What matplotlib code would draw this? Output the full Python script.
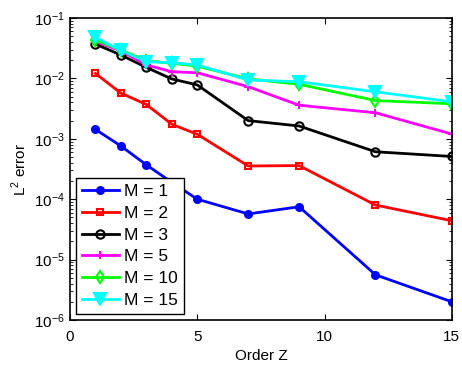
import matplotlib
matplotlib.use('Agg')
import matplotlib.pyplot as plt
from matplotlib.ticker import LogLocator, NullFormatter

plt.rcParams['font.family'] = ['Liberation Sans', 'DejaVu Sans']
plt.rcParams['mathtext.fontset'] = 'custom'
plt.rcParams['mathtext.rm'] = 'Liberation Sans'

# orders and L2 errors for each M
order_z = [1, 2, 3, 4, 5, 7, 9, 12, 15]
err_m1 = [1.43e-3, 7.6e-4, 3.7e-4, 1.9e-4, 1.0e-4, 5.7e-5, 7.5e-5, 5.6e-6, 2.0e-6]
err_m2 = [1.21e-2, 5.7e-3, 3.7e-3, 1.74e-3, 1.19e-3, 3.55e-4, 3.6e-4, 8.0e-5, 4.4e-5]
err_m3 = [3.7e-2, 2.44e-2, 1.52e-2, 9.8e-3, 7.8e-3, 2.0e-3, 1.63e-3, 6.1e-4, 5.1e-4]
err_m5 = [4.05e-2, 2.88e-2, 1.67e-2, 1.29e-2, 1.24e-2, 7.3e-3, 3.6e-3, 2.7e-3, 1.2e-3]
err_m10 = [4.3e-2, 2.95e-2, 1.97e-2, 1.78e-2, 1.6e-2, 9.8e-3, 8.0e-3, 4.3e-3, 3.8e-3]
err_m15 = [4.8e-2, 2.9e-2, 1.89e-2, 1.82e-2, 1.67e-2, 9.4e-3, 8.8e-3, 6.0e-3, 4.1e-3]

series = [
    ('M = 1', err_m1, '#0000ff', '.', 10),
    ('M = 2', err_m2, '#ff0000', 's', 5),
    ('M = 3', err_m3, '#000000', 'o', 6),
    ('M = 5', err_m5, '#ff00ff', '+', 6),
    ('M = 10', err_m10, '#00ff00', 'd', 6),
    ('M = 15', err_m15, '#00ffff', 'v', 8),
]

fig = plt.figure(figsize=(4.62, 3.66), dpi=100)
ax = fig.add_axes([0.1515, 0.1257, 0.8265, 0.8251])

for label, vals, col, mk, ms in series:
    if mk in ('.', '+', 'v'):
        ax.plot(order_z, vals, color=col, marker=mk, ms=ms, lw=2,
                mew=1.5, label=label)
    else:
        ax.plot(order_z, vals, color=col, marker=mk, ms=ms, lw=2,
                mew=1.5, mfc='none', label=label)

ax.set_yscale('log')
ax.set_xlim(0, 15)
ax.set_ylim(1e-6, 1e-1)
ax.set_xticks([0, 5, 10, 15])
ax.yaxis.set_major_locator(LogLocator(base=10, numticks=10))
ax.yaxis.set_minor_locator(LogLocator(base=10, subs=range(2, 10), numticks=20))
ax.yaxis.set_minor_formatter(NullFormatter())
ax.tick_params(which='both', direction='in', top=True, right=True, labelsize=11)
ax.tick_params(which='major', length=4)
ax.tick_params(which='minor', length=2)
ax.tick_params(axis='x', pad=7)
for sp in ax.spines.values():
    sp.set_linewidth(1.2)

ax.set_xlabel('Order Z', fontsize=11)
ax.set_ylabel(r'L$^2$ error', fontsize=11)

leg = ax.legend(loc='lower left', fontsize=12.5, fancybox=False, framealpha=1,
                edgecolor='k', handlelength=2.1, borderaxespad=0.35,
                labelspacing=0.38, handletextpad=0.3, borderpad=0.35)
leg.get_frame().set_linewidth(1.0)

fig.savefig('out.png', dpi=100)
